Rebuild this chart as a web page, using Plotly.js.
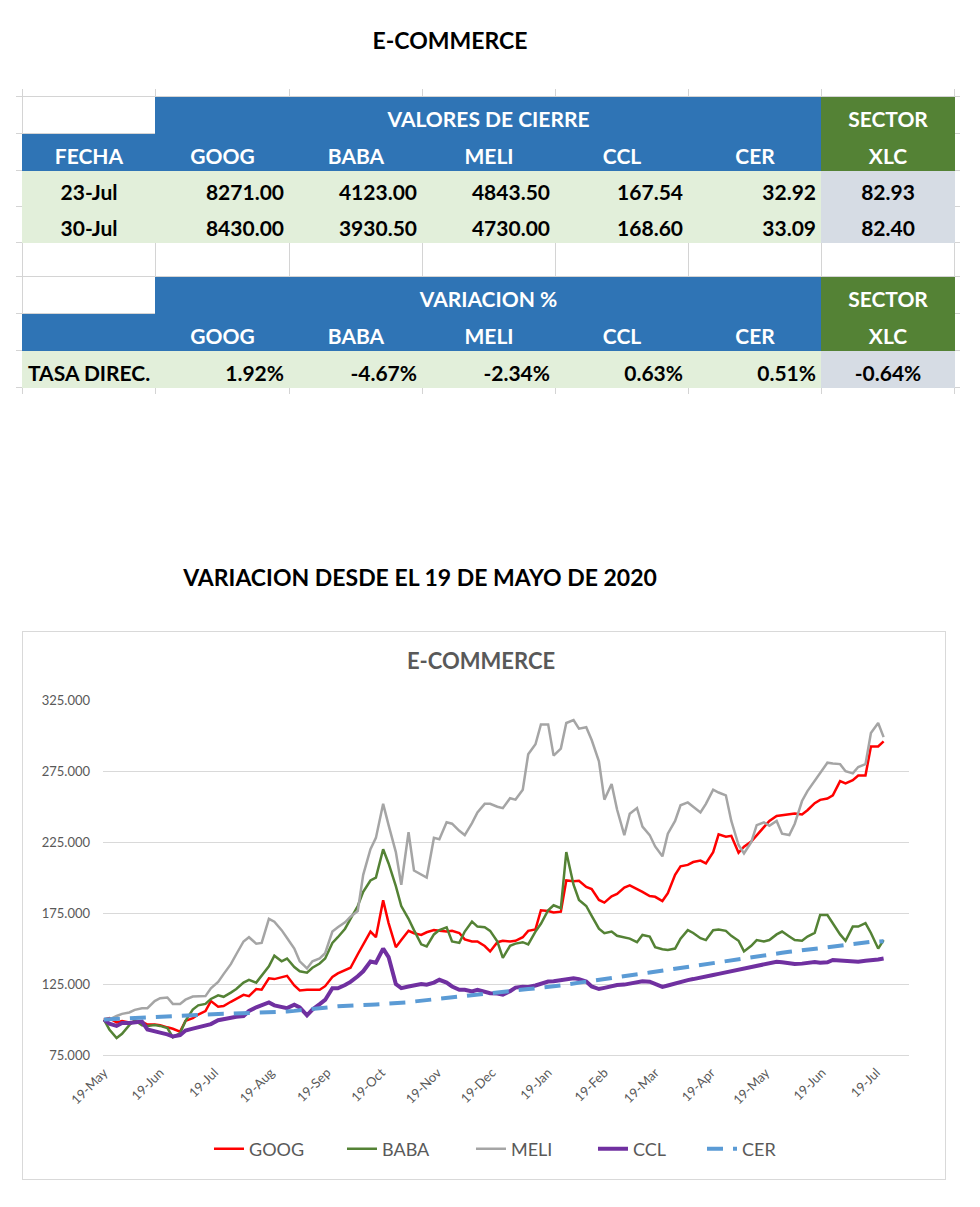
<!DOCTYPE html>
<html><head><meta charset="utf-8">
<script src="https://cdn.plot.ly/plotly-3.0.1.min.js"></script>
<style>
body{margin:0;background:#fff;width:980px;height:1207px;position:relative;overflow:hidden;font-family:Lato,'Open Sans',sans-serif}
.t{position:absolute;font-weight:700;color:#000;white-space:nowrap;text-align:center;line-height:1.2}
.c{position:absolute;box-sizing:border-box;display:flex;align-items:flex-end;font-weight:700;font-size:21px;line-height:1.2;white-space:nowrap;padding-bottom:2.5px}
.g{position:absolute;background:#D4D4D4}
#frame{position:absolute;left:22px;top:631px;width:924px;height:549px;box-sizing:border-box;border:1px solid #D9D9D9;pointer-events:none}
#chart{position:absolute;left:22px;top:631px;width:924px;height:549px}
</style></head><body>
<div class="t" style="left:0;width:900px;top:27px;font-size:23px">E-COMMERCE</div>
<div id="table"></div>
<div class="t" style="left:0;width:840px;top:564px;font-size:23px">VARIACION DESDE EL 19 DE MAYO DE 2020</div>
<div id="chart"></div>
<div id="frame"></div>
<script>
// ---------- table data ----------
const tableCols = ['GOOG','BABA','MELI','CCL','CER'];
const fechas = ['23-Jul','30-Jul'];
const cierre23 = [8271.00, 4123.00, 4843.50, 167.54, 32.92];
const cierre30 = [8430.00, 3930.50, 4730.00, 168.60, 33.09];
const xlcCierre = [82.93, 82.40];
const variacion = [1.92, -4.67, -2.34, 0.63, 0.51];
const xlcVariacion = -0.64;

// ---------- chart data ----------
const dates = [
'2020-05-19','2020-05-22','2020-05-26','2020-05-29','2020-06-02','2020-06-05','2020-06-09','2020-06-12','2020-06-16','2020-06-19',
'2020-06-23','2020-06-26','2020-06-30','2020-07-03','2020-07-07','2020-07-10','2020-07-14','2020-07-17','2020-07-21','2020-07-24',
'2020-07-28','2020-07-31','2020-08-04','2020-08-07','2020-08-11','2020-08-14','2020-08-18','2020-08-21','2020-08-25','2020-08-28',
'2020-09-01','2020-09-04','2020-09-08','2020-09-11','2020-09-15','2020-09-18','2020-09-22','2020-09-25','2020-09-29','2020-10-02',
'2020-10-06','2020-10-09','2020-10-13','2020-10-16','2020-10-20','2020-10-23','2020-10-27','2020-10-30','2020-11-03','2020-11-06',
'2020-11-10','2020-11-13','2020-11-17','2020-11-20','2020-11-24','2020-11-27','2020-12-01','2020-12-04','2020-12-08','2020-12-11',
'2020-12-15','2020-12-18','2020-12-22','2020-12-25','2020-12-29','2021-01-01','2021-01-05','2021-01-08','2021-01-12','2021-01-15',
'2021-01-19','2021-01-22','2021-01-26','2021-01-29','2021-02-02','2021-02-05','2021-02-09','2021-02-12','2021-02-16','2021-02-19',
'2021-02-23','2021-02-26','2021-03-02','2021-03-05','2021-03-09','2021-03-12','2021-03-16','2021-03-19','2021-03-23','2021-03-26',
'2021-03-30','2021-04-02','2021-04-06','2021-04-09','2021-04-13','2021-04-16','2021-04-20','2021-04-23','2021-04-27','2021-04-30',
'2021-05-04','2021-05-07','2021-05-11','2021-05-14','2021-05-18','2021-05-21','2021-05-25','2021-05-28','2021-06-01','2021-06-04',
'2021-06-08','2021-06-11','2021-06-15','2021-06-18','2021-06-22','2021-06-25','2021-06-29','2021-07-02','2021-07-06','2021-07-09',
'2021-07-13','2021-07-16','2021-07-20','2021-07-23'];

const goog = [
100,101,98,99,98,98.5,98.5,96.5,96.5,96,
94.5,93.5,91.5,99,101,103.5,106,113,109,109.5,
112.5,114.5,117.4,116.5,121.5,121,129,128.5,130,130.8,
124,120.5,120.9,121,121,123.5,130,132.5,134.5,136.5,
146,152.5,162,158,184,168,151,156,162.5,160.8,
159.6,161.5,163,162.5,162,162.5,161,156.5,155,155,
151.8,148,154.5,155.5,155,155.5,158,162.5,163.5,177,
176.5,175.5,176,198,197.5,197.8,193.5,192,184.3,182.4,
186.8,188.5,193,194.5,192,190,187,186.5,183.5,189,
202,208,209,211,212,210,218,230.5,228.8,229.5,
217.5,221.8,225.5,230,236,240,243.5,244,244.5,245.2,
244.5,247.5,252.5,254.8,255.8,258,268,266.5,268.7,272,
272,292.5,292.5,296];

const baba = [
100,93,87,90,96,99.5,96,95.5,96.2,95.5,
94,87.5,90.4,99,107,110,111,114.5,117,116,
119,121.5,126,128,126,131,137.5,145,141,143,
137,134,133,136.5,139.5,143,154,158,164,171,
180,190,198,200,220,210,194,180,171,163,
153,151.5,160,163,165,155,154,162,169,165.5,
165,162.5,155,143.5,152,153.5,154.5,153,162,167.5,
177,180.5,178.5,218,195,184.3,180,173,164,160.8,
162,159,158,157,154.5,159.6,158.5,151,149.5,149,
150,157,163,161,157.3,156,163,163.5,162.5,159,
155.5,148,152,156,155,156,160,162,158.5,156,
155.5,158.5,161,173.7,173.7,168,160,155.5,165.5,165.5,
168,161,150,156];

const meli = [
100,100,102.5,104,105,106.8,108,108,113,115,
115.5,111,111,114,116.2,116.5,116.5,122,126.5,132,
139,146,155,158,153.5,154,171,169,163,157.5,
150,141,136,141,143,146.7,162,165,168.5,172.5,
176.5,202,220,228,252,237,218,195,232,205,
202,200,228,227,239,238,233,230,238.5,246,
252,252,250,249,256,255,262,287,294,308,
308,286,291,309,311,305,306,297,282,255,
266,248,230,245,249,236,230,222,215,231,
240,251,253,250,246,252,262,260,258,240,
223,217,225,237,239,236.5,240,231,230,238,
254,261,268,274,281,280.5,280,275,273.5,278,
280,302,309,299];

const ccl = [
100,97,95.5,97.5,97.5,98,98.6,93,92,90.8,
89.5,88,89,92.3,93.6,94.5,95.8,96.8,99.5,100.3,
100.8,102,102.5,106,108.6,110.3,112,110,108.6,108,
110.4,108.5,103,107,110.8,113.8,122,122,124.3,126.5,
130.5,134,140.9,140,150,144,125,122.1,123.3,124.2,
125,124.5,126,128,126,123.3,120.9,120.9,119.8,120.9,
119.5,118.6,118.4,117.6,120,122.5,123.1,123,124,125,
126.8,127,127.8,128.5,129.1,128.5,126.8,123.3,121.5,122.3,
123.5,124.3,124.6,125.3,125.8,126.9,126.7,125,123,124,
125.5,126.4,127.8,128.5,129.3,130.2,131.4,132.2,133.3,134.2,
135.5,136.2,137.2,138,139.3,139.9,140.7,140.3,139.5,139.2,
139.4,139.7,140.6,140,140.3,142,141.8,141.5,141,140.7,
141.5,141.7,142.3,143];

const cer = [
100,100.2,100.5,100.7,100.9,101.1,101.4,101.7,102,102.2,
102.5,102.7,102.9,103.1,103.3,103.5,103.6,103.8,103.9,104,
104.1,104.2,104.3,104.4,104.6,104.8,105,105.2,105.4,105.7,
106.1,106.6,107,107.5,108,108.4,108.9,109.3,109.7,110,
110.2,110.3,110.4,110.6,110.8,111,111.3,111.6,112.2,112.7,
113.3,113.8,114.3,114.7,115.3,115.8,116.4,116.9,117.5,118,
118.5,119,119.5,119.9,120.4,120.8,121.2,121.5,122,122.3,
122.8,123.3,124,124.7,125.5,126.1,126.8,127.4,128,128.6,
129.3,129.9,130.6,131.2,131.9,132.4,133.1,133.7,134.3,134.8,
135.5,136,136.7,137.2,138,138.6,139.4,140,140.8,141.5,
142.3,142.9,143.7,144.3,145,145.6,146.4,147,147.7,148.2,
148.9,149.4,150.1,150.6,151.3,151.8,152.5,153,153.6,154,
154.4,154.7,155,155.2];

const xTickDates = ['2020-05-19','2020-06-19','2020-07-19','2020-08-19','2020-09-19','2020-10-19','2020-11-19','2020-12-19',
  '2021-01-19','2021-02-19','2021-03-19','2021-04-19','2021-05-19','2021-06-19','2021-07-19'];
const xTickText = ['19-May','19-Jun','19-Jul','19-Aug','19-Sep','19-Oct','19-Nov','19-Dec',
  '19-Jan','19-Feb','19-Mar','19-Apr','19-May','19-Jun','19-Jul'];
const yTickVals = [75,125,175,225,275,325];
const yTickText = ['75.000','125.000','175.000','225.000','275.000','325.000'];

// ---------- build table ----------
const colX = [22,155,289,422,555,688,821,954];
const rowY = [96,133,170,206,242,276,313,350,387];
const BLUE = '#2F74B5', GREEN = '#548235', LGREEN = '#E2EFDA', LGRAY = '#D6DCE4';
const tbl = document.getElementById('table');
function line(x, y, w, h){ const d=document.createElement('div'); d.className='g'; Object.assign(d.style,{left:x+'px',top:y+'px',width:w+'px',height:h+'px'}); tbl.appendChild(d); }
// spreadsheet gridlines (underneath)
rowY.forEach(y => line(16, y, 944, 1));
colX.forEach(x => line(x, 89, 1, 305));
function cell(c0, c1, r, bg, text, align, color){
  const d = document.createElement('div'); d.className='c';
  const x0 = colX[c0], x1 = colX[c1+1], y0 = rowY[r], y1 = rowY[r+1];
  Object.assign(d.style, {left:x0+'px', top:(y0+1)+'px', width:(x1-x0+1)+'px', height:(y1-y0)+'px',
    background:bg, color:color, justifyContent: align==='l'?'flex-start':align==='r'?'flex-end':'center',
    paddingLeft: align==='l'?'6px':'0', paddingRight: align==='r'?'6px':'0'});
  d.textContent = text; tbl.appendChild(d);
}
const W = '#FFFFFF';
// block 1
cell(1,5,0,BLUE,'VALORES DE CIERRE','c',W);
cell(6,6,0,GREEN,'SECTOR','c',W);
cell(0,0,1,BLUE,'FECHA','c',W);
tableCols.forEach((n,i)=>cell(i+1,i+1,1,BLUE,n,'c',W));
cell(6,6,1,GREEN,'XLC','c',W);
[cierre23, cierre30].forEach((vals, k) => {
  cell(0,0,2+k,LGREEN,fechas[k],'c','#000');
  vals.forEach((v,i)=>cell(i+1,i+1,2+k,LGREEN,v.toFixed(2),'r','#000'));
  cell(6,6,2+k,LGRAY,xlcCierre[k].toFixed(2),'c','#000');
});
// block 2
cell(1,5,5,BLUE,'VARIACION %','c',W);
cell(6,6,5,GREEN,'SECTOR','c',W);
cell(0,0,6,BLUE,'','c',W);
tableCols.forEach((n,i)=>cell(i+1,i+1,6,BLUE,n,'c',W));
cell(6,6,6,GREEN,'XLC','c',W);
cell(0,0,7,LGREEN,'TASA DIREC.','l','#000');
variacion.forEach((v,i)=>cell(i+1,i+1,7,LGREEN,v.toFixed(2)+'%','r','#000'));
cell(6,6,7,LGRAY,xlcVariacion.toFixed(2)+'%','c','#000');

// ---------- chart ----------
const series = [
  {name:'GOOG', y:goog, color:'#FF0000', width:2.5, dash:'solid', lw:88},
  {name:'BABA', y:baba, color:'#548235', width:2.5, dash:'solid', lw:84},
  {name:'MELI', y:meli, color:'#A5A5A5', width:2.5, dash:'solid', lw:77},
  {name:'CCL',  y:ccl,  color:'#7030A0', width:4,   dash:'solid', lw:64},
  {name:'CER',  y:cer,  color:'#5B9BD5', width:4,   dash:'16px,10px', lw:50}
];
const traces = series.map(s => ({
  type:'scatter', mode:'lines', name:s.name, x:dates, y:s.y,
  line:{color:s.color, width:s.width, dash:s.dash}, legendwidth:s.lw, hoverinfo:'skip'
}));
const layout = {
  width:924, height:549,
  margin:{l:81, r:37, t:69, b:125, pad:0},
  paper_bgcolor:'rgba(0,0,0,0)', plot_bgcolor:'#FFFFFF',
  font:{family:'Lato, sans-serif', color:'#595959'},
  title:{text:'E-COMMERCE', font:{size:22, color:'#595959', weight:700},
    x:459/924, xref:'container', xanchor:'center', y:1-30.5/549, yref:'container', yanchor:'middle'},
  xaxis:{type:'date', range:['2020-05-18 12:00','2021-08-06'], tickmode:'array', tickvals:xTickDates, ticktext:xTickText,
    tickangle:-45, tickfont:{size:13, color:'#595959'}, showgrid:false, zeroline:false,
    showline:true, linecolor:'#D9D9D9', linewidth:1, ticks:'', ticklabelstandoff:4},
  yaxis:{range:[75,325.2], tickmode:'array', tickvals:yTickVals, ticktext:yTickText, showgrid:true,
    gridcolor:'#D9D9D9', gridwidth:1, zeroline:false, showline:false, ticks:'',
    tickfont:{size:13, color:'#595959'}, ticklabelstandoff:12},
  showlegend:true,
  legend:{orientation:'h', x:0.1315, xanchor:'left', y:-0.2648, yanchor:'middle',
    font:{size:18, color:'#595959'}, bgcolor:'rgba(0,0,0,0)', traceorder:'normal'}
};
Plotly.newPlot('chart', traces, layout, {staticPlot:true, displayModeBar:false});
</script>
</body></html>
